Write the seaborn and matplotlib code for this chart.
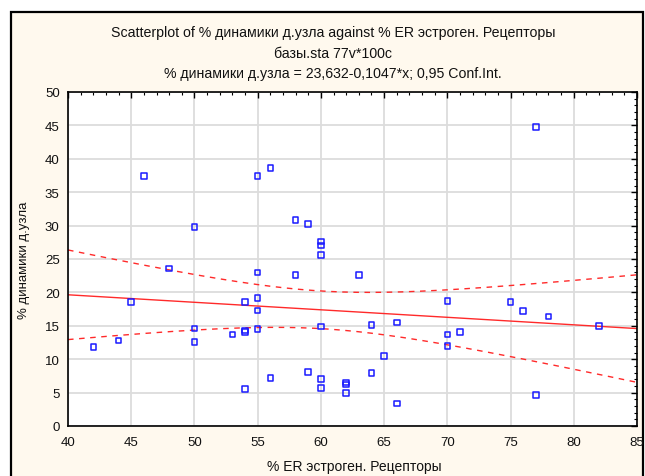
import numpy as np
import pandas as pd
import matplotlib
matplotlib.use("Agg")
import matplotlib.pyplot as plt
from matplotlib.patches import Rectangle
from matplotlib.ticker import MultipleLocator
import seaborn as sns

# ---- data ----
er_receptors = [42, 44, 45, 46, 48, 50, 50, 50, 53, 54, 54, 54, 54,
                55, 55, 55, 55, 55, 56, 56, 58, 58, 59, 59,
                60, 60, 60, 60, 60, 60, 62, 62, 62, 63, 64, 64, 65, 66, 66,
                70, 70, 70, 71, 75, 76, 77, 77, 78, 82]
node_dynamics = [11.8, 12.8, 18.6, 37.4, 23.6, 29.8, 14.6, 12.6, 13.7, 14.1, 14.3, 18.6, 5.5,
                 37.4, 23.0, 19.2, 17.3, 14.5, 38.6, 7.2, 30.8, 22.6, 30.2, 8.1,
                 27.6, 27.0, 25.6, 14.9, 7.0, 5.7, 6.5, 6.2, 4.9, 22.6, 15.1, 7.9, 10.5, 15.5, 3.4,
                 18.7, 13.7, 12.0, 14.1, 18.6, 17.2, 44.8, 4.6, 16.4, 15.0]
x_ticks = [40, 45, 50, 55, 60, 65, 70, 75, 80, 85]
y_ticks = [0, 5, 10, 15, 20, 25, 30, 35, 40, 45, 50]

title_lines = ["Scatterplot of % динамики д.узла against % ER эстроген. Рецепторы",
               "базы.sta 77v*100c",
               "% динамики д.узла = 23,632-0,1047*x; 0,95 Conf.Int."]
x_label = "% ER эстроген. Рецепторы"
y_label = "% динамики д.узла"

df = pd.DataFrame({"x": er_receptors, "y": node_dynamics})

# ---- regression and 95% confidence band ----
x = np.asarray(er_receptors, float)
y = np.asarray(node_dynamics, float)
n = len(x)
slope, intercept = np.polyfit(x, y, 1)
resid = y - (intercept + slope * x)
s = np.sqrt(np.sum(resid ** 2) / (n - 2))
sxx = np.sum((x - x.mean()) ** 2)
t_crit = 2.0117  # t(0.975, 47)
xg = np.linspace(x_ticks[0], x_ticks[-1], 200)
yg = intercept + slope * xg
half = t_crit * s * np.sqrt(1.0 / n + (xg - x.mean()) ** 2 / sxx)
fit_df = pd.DataFrame({"x": xg, "fit": yg, "lo": yg - half, "hi": yg + half})

# ---- figure ----
sns.set_style("white")
plt.rcParams["font.family"] = ["Liberation Sans", "DejaVu Sans"]

fig = plt.figure(figsize=(6.45, 4.77), dpi=100)
fig.patch.set_facecolor("white")
frame = Rectangle((11 / 645, -0.05), (643 - 11) / 645, 1 - 13 / 477 + 0.05,
                  transform=fig.transFigure, facecolor="#FFF9EE",
                  edgecolor="black", linewidth=1.6, zorder=-10)
fig.patches.append(frame)

ax = fig.add_axes([68 / 645, 1 - 427 / 477, (637 - 68) / 645, (427 - 93) / 477])
ax.set_facecolor("white")

sns.lineplot(data=fit_df, x="x", y="fit", ax=ax, color="#FF2A2A", lw=1.0)
sns.lineplot(data=fit_df, x="x", y="lo", ax=ax, color="#FF2A2A", lw=1.0,
             linestyle=(0, (4, 4)))
sns.lineplot(data=fit_df, x="x", y="hi", ax=ax, color="#FF2A2A", lw=1.0,
             linestyle=(0, (4, 4)))
sns.scatterplot(data=df, x="x", y="y", ax=ax, marker="s", s=16,
                facecolor="none", edgecolor="#1A1AFF", linewidth=1.1, zorder=5)

ax.set_xlim(x_ticks[0], x_ticks[-1])
ax.set_ylim(y_ticks[0], y_ticks[-1])
ax.set_xticks(x_ticks)
ax.set_yticks(y_ticks)
ax.xaxis.set_minor_locator(MultipleLocator(1))
ax.yaxis.set_minor_locator(MultipleLocator(1))
ax.tick_params(which="both", direction="in", top=True, right=True, colors="black",
               labelcolor="#111111", labelsize=9.5)
ax.tick_params(which="major", length=4, width=1.0)
ax.tick_params(which="minor", length=2.5, width=0.8)
ax.tick_params(axis="x", pad=7)
ax.tick_params(axis="y", pad=6)
ax.grid(True, which="major", color="#DCDCDC", linewidth=1.3)
ax.set_axisbelow(True)
for sp in ax.spines.values():
    sp.set_color("black")
    sp.set_linewidth(1.2)
    sp.set_visible(True)

ax.set_xlabel(x_label, fontsize=10, color="#111111")
ax.set_ylabel(y_label, fontsize=9.5, color="#111111")
ax.xaxis.set_label_coords(0.503, -0.100)
ax.yaxis.set_label_coords(-0.066, 0.5)

for line, yy in zip(title_lines, [1 - 33 / 477, 1 - 54 / 477, 1 - 74 / 477]):
    fig.text(0.516, yy, line, ha="center", va="center", fontsize=10.2, color="#111111")

fig.savefig("out.png", dpi=100, facecolor=fig.get_facecolor())
